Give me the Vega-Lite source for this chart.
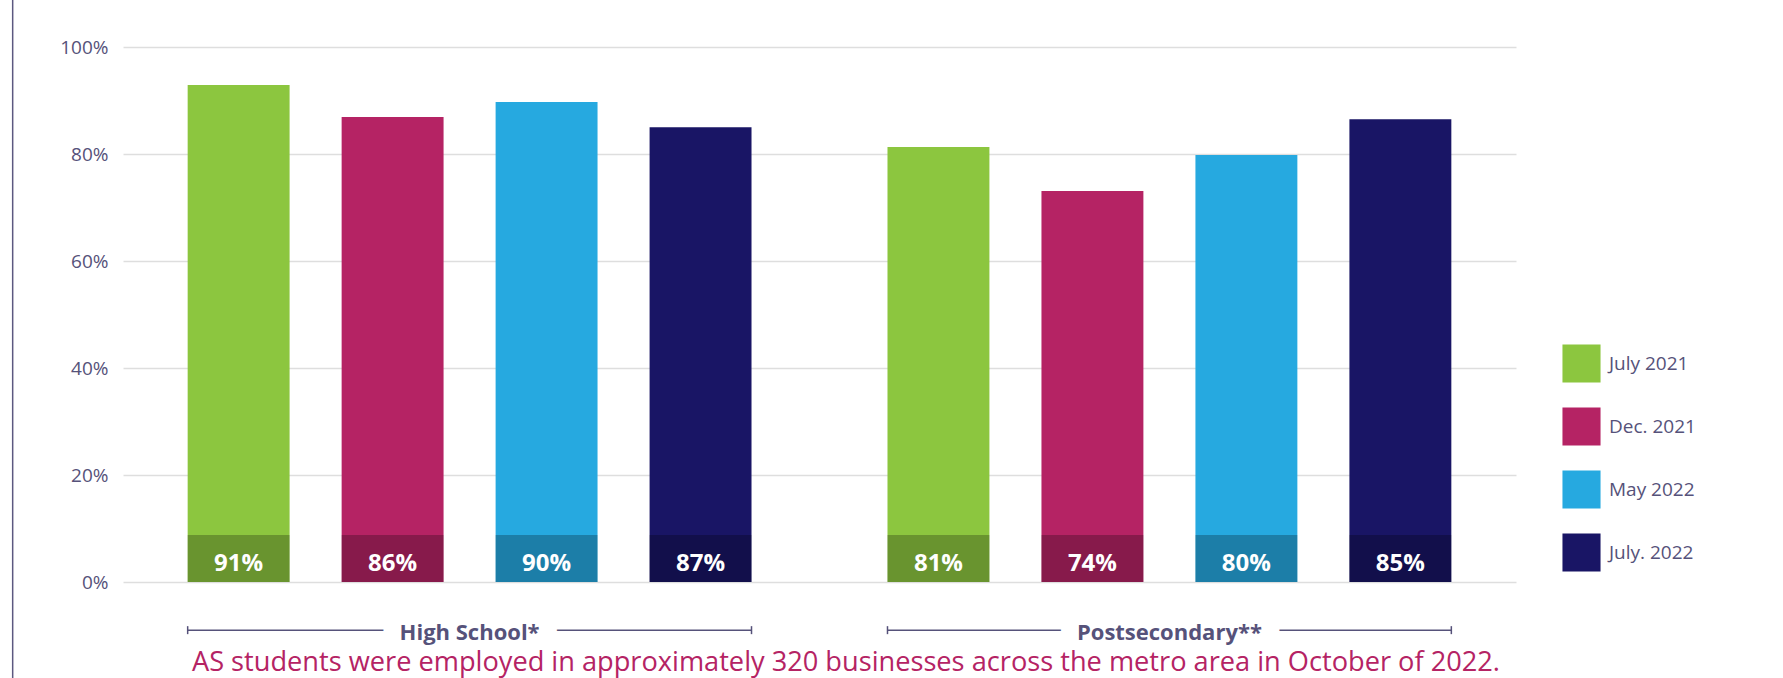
{
  "$schema": "https://vega.github.io/schema/vega-lite/v6.json",
  "width": 1393,
  "height": 535,
  "autosize": {"type": "none"},
  "padding": {"left": 123, "top": 47, "right": 267, "bottom": 96},
  "background": "white",
  "config": {
    "view": {"stroke": null},
    "font": "Open Sans",
    "axisY": {"title": null, "domain": false, "ticks": false, "labelPadding": 15, "labelFontSize": 19,
              "labelColor": "#56527a", "labelFont": "Open Sans",
              "gridColor": "#000000", "gridOpacity": 0.13, "gridWidth": 1.5, "zindex": 1}
  },
  "datasets": {
    "bars": [
      {"group": "High School*", "period": "July 2021", "value": 92.9, "label": "91%"},
      {"group": "High School*", "period": "Dec. 2021", "value": 86.9, "label": "86%"},
      {"group": "High School*", "period": "May 2022", "value": 89.7, "label": "90%"},
      {"group": "High School*", "period": "July. 2022", "value": 85.0, "label": "87%"},
      {"group": "Postsecondary**", "period": "July 2021", "value": 81.3, "label": "81%"},
      {"group": "Postsecondary**", "period": "Dec. 2021", "value": 73.1, "label": "74%"},
      {"group": "Postsecondary**", "period": "May 2022", "value": 79.8, "label": "80%"},
      {"group": "Postsecondary**", "period": "July. 2022", "value": 86.5, "label": "85%"}
    ],
    "groups": [
      {"group": "High School*"},
      {"group": "Postsecondary**"}
    ],
    "notes": [
      {"caption": "AS students were employed in approximately 320 businesses across the metro area in October of 2022."}
    ]
  },
  "layer": [
    {
      "layer": [
        {
          "data": {"name": "bars"},
          "mark": {"type": "bar"},
          "encoding": {
            "x": {"field": "group", "type": "nominal", "axis": null,
                  "scale": {"domain": ["High School*", "Postsecondary**"], "paddingInner": 0.1943, "paddingOuter": 0.0924}},
            "xOffset": {"field": "period", "type": "nominal",
                  "scale": {"domain": ["July 2021", "Dec. 2021", "May 2022", "July. 2022"], "paddingInner": 0.338, "paddingOuter": 0}},
            "y": {"field": "value", "type": "quantitative", "title": null,
                  "scale": {"domain": [0, 100], "nice": false},
                  "axis": {"values": [0, 20, 40, 60, 80, 100], "labelExpr": "datum.value + '%'"}},
            "color": {"field": "period", "type": "nominal",
                  "scale": {"domain": ["July 2021", "Dec. 2021", "May 2022", "July. 2022"],
                            "range": ["#8CC63F", "#B52364", "#26A9E0", "#191565"]},
                  "legend": {"orient": "none", "legendX": 1439, "legendY": 297, "title": null,
                             "symbolType": "square", "symbolSize": 1450, "symbolStrokeWidth": 0,
                             "symbolOpacity": 1,
                             "labelFontSize": 19, "labelColor": "#56527a", "labelFont": "Open Sans",
                             "labelOffset": 8, "rowPadding": 24, "padding": 0}}
          }
        },
        {
          "data": {"name": "bars"},
          "mark": {"type": "bar", "color": "#000000", "opacity": 0.25},
          "encoding": {
            "x": {"field": "group", "type": "nominal", "axis": null},
            "xOffset": {"field": "period", "type": "nominal"},
            "y": {"datum": 0, "type": "quantitative", "title": null},
            "y2": {"datum": 8.8}
          }
        },
        {
          "data": {"name": "bars"},
          "mark": {"type": "text", "color": "#ffffff", "fontSize": 24, "fontWeight": "bold", "baseline": "alphabetic", "align": "center"},
          "encoding": {
            "x": {"field": "group", "type": "nominal", "axis": null},
            "xOffset": {"field": "period", "type": "nominal"},
            "y": {"datum": 2.1, "type": "quantitative", "title": null},
            "text": {"field": "label"}
          }
        },
        {
          "data": {"name": "groups"},
          "mark": {"type": "rule", "color": "#56527a", "strokeWidth": 1.5},
          "encoding": {
            "x": {"field": "group", "type": "nominal", "bandPosition": 0, "axis": null},
            "x2": {"field": "group", "bandPosition": 1},
            "y": {"datum": -9, "type": "quantitative", "title": null}
          }
        },
        {
          "data": {"name": "groups"},
          "mark": {"type": "point", "shape": "M0,-1L0,1", "size": 64, "filled": false, "color": "#56527a", "strokeWidth": 1.5, "opacity": 1},
          "encoding": {
            "x": {"field": "group", "type": "nominal", "bandPosition": 0, "axis": null},
            "y": {"datum": -9, "type": "quantitative", "title": null}
          }
        },
        {
          "data": {"name": "groups"},
          "mark": {"type": "point", "shape": "M0,-1L0,1", "size": 64, "filled": false, "color": "#56527a", "strokeWidth": 1.5, "opacity": 1},
          "encoding": {
            "x": {"field": "group", "type": "nominal", "bandPosition": 1, "axis": null},
            "y": {"datum": -9, "type": "quantitative", "title": null}
          }
        },
        {
          "data": {"name": "groups"},
          "mark": {"type": "text", "fill": "#ffffff", "stroke": "#ffffff", "strokeWidth": 36, "strokeJoin": "round",
                   "fontSize": 22, "fontWeight": "bold", "baseline": "alphabetic", "align": "center"},
          "encoding": {
            "x": {"field": "group", "type": "nominal", "axis": null},
            "y": {"datum": -10.84, "type": "quantitative", "title": null},
            "text": {"field": "group"}
          }
        },
        {
          "data": {"name": "groups"},
          "mark": {"type": "text", "color": "#56527a", "fontSize": 22, "fontWeight": "bold", "baseline": "alphabetic", "align": "center"},
          "encoding": {
            "x": {"field": "group", "type": "nominal", "axis": null},
            "y": {"datum": -10.84, "type": "quantitative", "title": null},
            "text": {"field": "group"}
          }
        }
      ]
    },
    {
      "data": {"name": "notes"},
      "layer": [
        {
          "mark": {"type": "rule", "color": "#5c5880", "strokeWidth": 1.5},
          "encoding": {
            "x": {"datum": -7.92, "type": "quantitative", "scale": {"domain": [0, 100], "nice": false, "zero": false}, "axis": null},
            "y": {"datum": 108.8, "type": "quantitative", "title": null},
            "y2": {"datum": -18}
          }
        },
        {
          "mark": {"type": "text", "color": "#B52364", "fontSize": 27.2, "baseline": "alphabetic", "align": "center"},
          "encoding": {
            "x": {"datum": 51.9, "type": "quantitative", "axis": null},
            "y": {"datum": -16.64, "type": "quantitative", "title": null},
            "text": {"field": "caption"}
          }
        }
      ]
    }
  ],
  "resolve": {"scale": {"x": "independent"}}
}
